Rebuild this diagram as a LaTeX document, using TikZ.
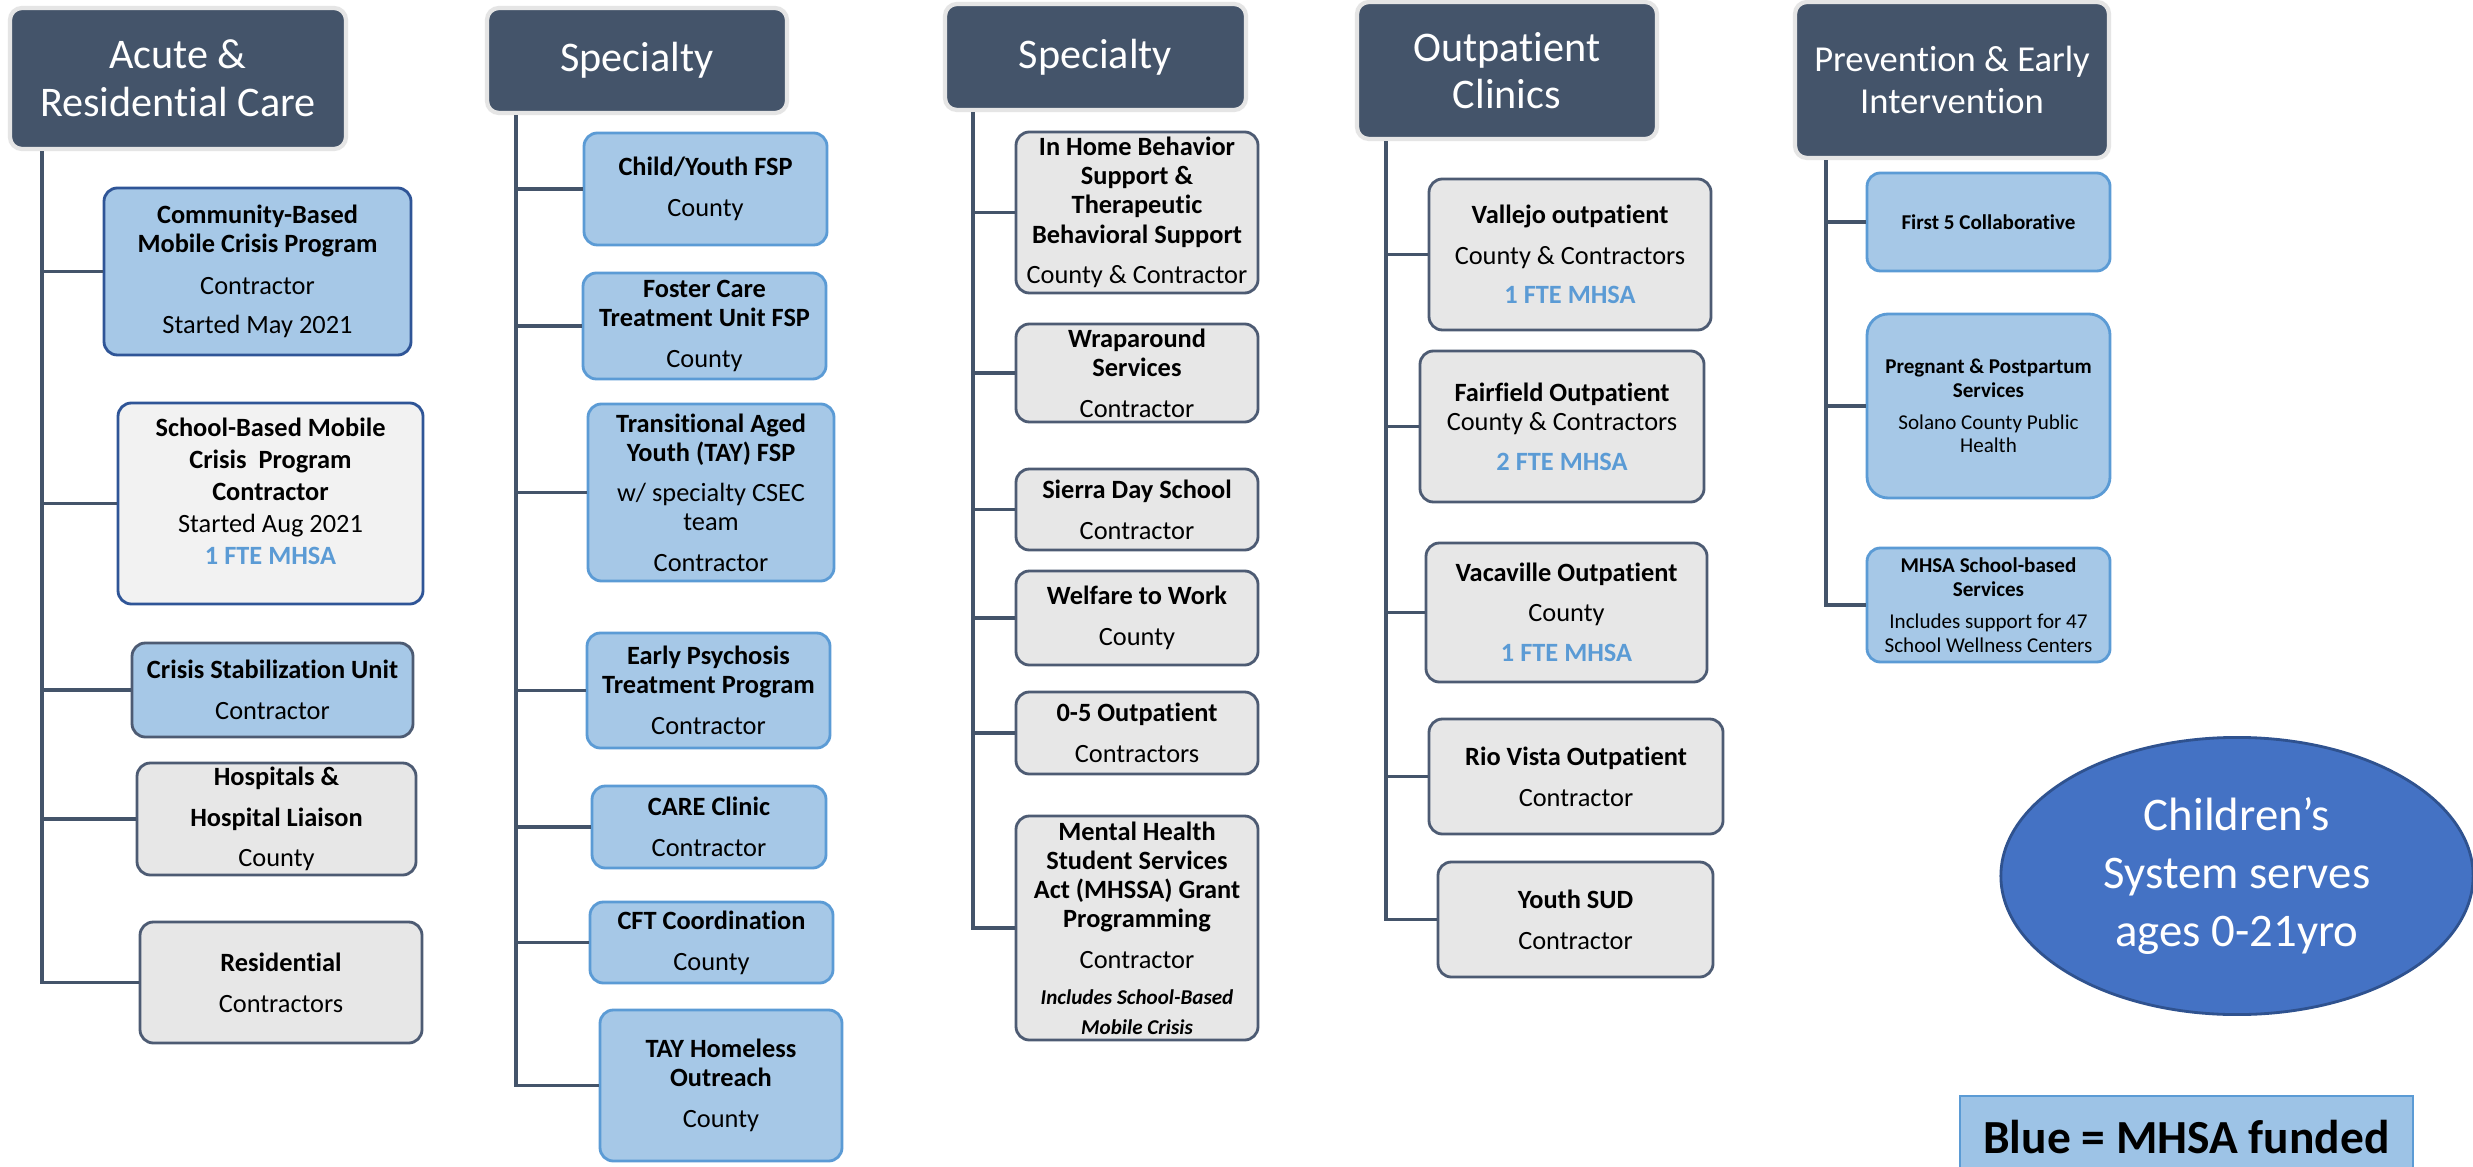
\documentclass[tikz,border=0pt]{standalone}
\usepackage{fontspec}
\setmainfont{Carlito}[RawFeature={-liga;-clig;-calt;-dlig}]
\usetikzlibrary{shapes.geometric}
\definecolor{hdr}{HTML}{44546A}
\definecolor{bfill}{HTML}{A6C8E7}
\definecolor{gfill}{HTML}{E7E7E7}
\definecolor{wfill}{HTML}{F2F2F2}
\definecolor{bdark}{HTML}{2F5597}
\definecolor{blight}{HTML}{5B9BD5}
\definecolor{slate}{HTML}{4D5B73}
\definecolor{ftecol}{HTML}{5B9BD5}
\definecolor{ellf}{HTML}{4472C4}
\definecolor{elld}{HTML}{2F528F}
\definecolor{legf}{HTML}{9DC3E6}
\newcommand{\fte}[1]{\textcolor{ftecol}{\textbf{#1}}}
\newcommand{\bx}[7]{\node[#2, minimum width={(#5-#3)*0.01cm}, minimum height={(#6-#4)*0.01cm}] (#1) at ({(#3+#5)/2},{(#4+#6)/2}) {#7};}
\tikzset{
  hdrbox/.style={draw=black!10, line width=1.2pt, fill=hdr, rounded corners=3.4pt, text=white, align=center, inner sep=0pt, font=\fontsize{12}{13.6}\selectfont},
  box/.style={rounded corners=3.8pt, line width=0.8pt, align=center, inner sep=0pt, text=black, font=\fontsize{7.5}{8.3}\selectfont},
  bluebox/.style={box, fill=bfill, draw=blight},
  blueboxd/.style={box, fill=bfill, draw=bdark},
  blueboxs/.style={box, fill=bfill, draw=slate},
  whitebox/.style={box, fill=wfill, draw=bdark},
  graybox/.style={box, fill=gfill, draw=slate},
  peibox/.style={box, fill=bfill, draw=blight, font=\fontsize{6}{6.8}\selectfont},
  conn/.style={draw=hdr, line width=0.9pt}
}
\begin{document}
\begin{tikzpicture}[x=0.01cm, y=-0.01cm]
\clip (0,0) rectangle (2473,1167);
\fill[white] (0,0) rectangle (2473,1167);

% ---------- Column A ----------
\bx{hA}{hdrbox}{10}{8}{346}{149}{Acute \&\\Residential Care}
\bx{a1}{blueboxd}{104}{188}{411}{355}{\textbf{Community-Based}\\\textbf{Mobile Crisis Program}\\[3.6pt]Contractor\\[2.7pt]Started May 2021}
\bx{a2}{whitebox}{118}{403}{423}{604}{\textbf{School-Based Mobile}\\[0.8pt]\textbf{Crisis\ \ Program}\\[0.8pt]\textbf{Contractor}\\[0.8pt]Started Aug 2021\\[0.8pt]\fte{1 FTE MHSA}\\[-1.1pt]\mbox{}}
\bx{a3}{blueboxs}{132}{643}{413}{737}{\textbf{Crisis Stabilization Unit}\\[3.3pt]Contractor}
\bx{a4}{graybox}{137}{763}{416}{875}{\textbf{Hospitals \&}\\[3.3pt]\textbf{Hospital Liaison}\\[3pt]County}
\bx{a5}{graybox}{140}{922}{422}{1043}{\textbf{Residential}\\[3.3pt]Contractors}
\coordinate (ta) at (42,0);
\draw[conn] (hA.south -| ta) |- (a5.west);
\foreach \n in {a1,a2,a3,a4} \draw[conn] (\n.west) -- (\n.west -| ta);

% ---------- Column B ----------
\bx{hB}{hdrbox}{487}{8}{787}{113}{Specialty}
\bx{b1}{bluebox}{584}{133}{827}{245}{\textbf{Child/Youth FSP}\\[3.3pt]County}
\bx{b2}{bluebox}{583}{273}{826}{379}{\textbf{Foster Care}\\\textbf{Treatment Unit FSP}\\[3.3pt]County}
\bx{b3}{bluebox}{588}{404}{834}{581}{\textbf{Transitional Aged}\\\textbf{Youth (TAY) FSP}\\[3pt]w/ specialty CSEC\\team\\[3.3pt]Contractor}
\bx{b4}{bluebox}{587}{633}{830}{748}{\textbf{Early Psychosis}\\\textbf{Treatment Program}\\[3.3pt]Contractor}
\bx{b5}{bluebox}{592}{786}{826}{868}{\textbf{CARE Clinic}\\[3.3pt]Contractor}
\bx{b6}{bluebox}{590}{902}{833}{983}{\textbf{CFT Coordination}\\[3.3pt]County}
\bx{b7}{bluebox}{600}{1010}{842}{1161}{\textbf{TAY Homeless}\\\textbf{Outreach}\\[3.3pt]County}
\coordinate (tb) at (516,0);
\draw[conn] (hB.south -| tb) |- (b7.west);
\foreach \n in {b1,b2,b3,b4,b5,b6} \draw[conn] (\n.west) -- (\n.west -| tb);

% ---------- Column C ----------
\bx{hC}{hdrbox}{945}{4}{1246}{110}{Specialty}
\bx{c1}{graybox}{1016}{132}{1258}{293}{\textbf{In Home Behavior}\\\textbf{Support \&}\\\textbf{Therapeutic}\\\textbf{Behavioral Support}\\[3.3pt]County \& Contractor}
\bx{c2}{graybox}{1016}{324}{1258}{422}{\textbf{Wraparound}\\\textbf{Services}\\[3.3pt]Contractor}
\bx{c3}{graybox}{1016}{469}{1258}{550}{\textbf{Sierra Day School}\\[3.3pt]Contractor}
\bx{c4}{graybox}{1016}{571}{1258}{665}{\textbf{Welfare to Work}\\[3.3pt]County}
\bx{c5}{graybox}{1016}{692}{1258}{774}{\textbf{0-5 Outpatient}\\[3.3pt]Contractors}
\bx{c6}{graybox}{1016}{816}{1258}{1040}{\textbf{Mental Health}\\\textbf{Student Services}\\\textbf{Act (MHSSA) Grant}\\\textbf{Programming}\\[3.3pt]Contractor\\[2pt]\fontsize{6}{6.8}\selectfont\bfseries\itshape Includes School-Based\\\fontsize{6}{6.8}\selectfont\bfseries\itshape Mobile Crisis}
\coordinate (tc) at (973,0);
\draw[conn] (hC.south -| tc) |- (c6.west);
\foreach \n in {c1,c2,c3,c4,c5} \draw[conn] (\n.west) -- (\n.west -| tc);

% ---------- Column D ----------
\bx{hD}{hdrbox}{1357}{2}{1657}{139}{Outpatient\\[-0.3pt]Clinics}
\bx{d1}{graybox}{1429}{179}{1711}{330}{\textbf{Vallejo outpatient}\\[3.3pt]County \& Contractors\\[3pt]\fte{1 FTE MHSA}}
\bx{d2}{graybox}{1420}{351}{1704}{502}{\textbf{Fairfield Outpatient}\\County \& Contractors\\[3pt]\fte{2 FTE MHSA}}
\bx{d3}{graybox}{1426}{543}{1707}{682}{\textbf{Vacaville Outpatient}\\[3pt]County\\[3pt]\fte{1 FTE MHSA}}
\bx{d4}{graybox}{1429}{719}{1723}{834}{\textbf{Rio Vista Outpatient}\\[3.3pt]Contractor}
\bx{d5}{graybox}{1438}{862}{1713}{977}{\textbf{Youth SUD}\\[3.3pt]Contractor}
\coordinate (td) at (1386,0);
\draw[conn] (hD.south -| td) |- (d5.west);
\foreach \n in {d1,d2,d3,d4} \draw[conn] (\n.west) -- (\n.west -| td);

% ---------- Column E ----------
\bx{hE}{hdrbox, font=\fontsize{10.4}{11.9}\selectfont}{1795}{2}{2109}{158}{Prevention \& Early\\Intervention}
\bx{e1}{peibox}{1867}{173}{2110}{271}{\textbf{First 5 Collaborative}}
\bx{e2}{peibox, rounded corners=6pt}{1867}{314}{2110}{498}{\textbf{Pregnant \& Postpartum}\\\textbf{Services}\\[2.2pt]Solano County Public\\Health}
\bx{e3}{peibox}{1867}{548}{2110}{662}{\textbf{MHSA School-based}\\\textbf{Services}\\[2.2pt]Includes support for 47\\School Wellness Centers}
\coordinate (te) at (1826,0);
\draw[conn] (hE.south -| te) |- (e3.west);
\foreach \n in {e1,e2} \draw[conn] (\n.west) -- (\n.west -| te);

% ---------- Ellipse and legend ----------
\node[ellipse, fill=ellf, draw=elld, line width=0.8pt, minimum width=4.72cm, minimum height=2.77cm, inner sep=0pt, text=white, align=center, font=\fontsize{13.3}{16.4}\selectfont] (ell) at (2237,876) {Children’s\\System serves\\ages 0-21yro};
\bx{leg}{draw=blight, fill=legf, line width=0.8pt, inner sep=0pt, font=\fontsize{13.5}{16}\selectfont\bfseries}{1960}{1096}{2413}{1178}{Blue = MHSA funded}
\end{tikzpicture}
\end{document}
